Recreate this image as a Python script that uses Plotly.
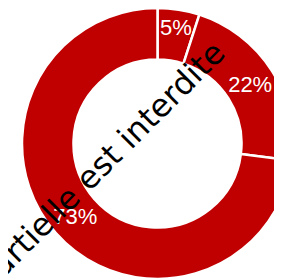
import plotly.graph_objects as go

labels = ["A", "B", "C"]
values = [5, 22, 73]
ring_color = "#C00000"
watermark = "partielle est interdite"

# page body has an 8px margin; the figure is sized so the ring is cropped on the right
W, H = 299, 280
R_PX = 135.5

fig = go.Figure(go.Pie(
    labels=labels,
    values=values,
    hole=0.62,
    sort=False,
    direction="clockwise",
    rotation=0,
    marker=dict(colors=[ring_color] * len(values), line=dict(color="white", width=2.5)),
    textinfo="percent",
    textposition="inside",
    insidetextorientation="horizontal",
    textfont=dict(family="Liberation Sans, Arial", size=22, color="white"),
    domain=dict(x=[0, 1], y=[1 - 2 * R_PX / H, 1]),
    showlegend=False,
    hoverinfo="none",
))

fig.add_annotation(
    text=watermark, xref="paper", yref="paper",
    x=92 / W, y=1 - 158 / H, xanchor="center", yanchor="middle",
    textangle=-45, showarrow=False,
    font=dict(family="DejaVu Sans", size=32, color="black"),
)

fig.update_layout(
    width=W, height=H,
    margin=dict(l=0, r=0, t=0, b=0),
    paper_bgcolor="white", plot_bgcolor="white",
    uniformtext=dict(minsize=22, mode="show"),
)

fig.write_html("out.html")
